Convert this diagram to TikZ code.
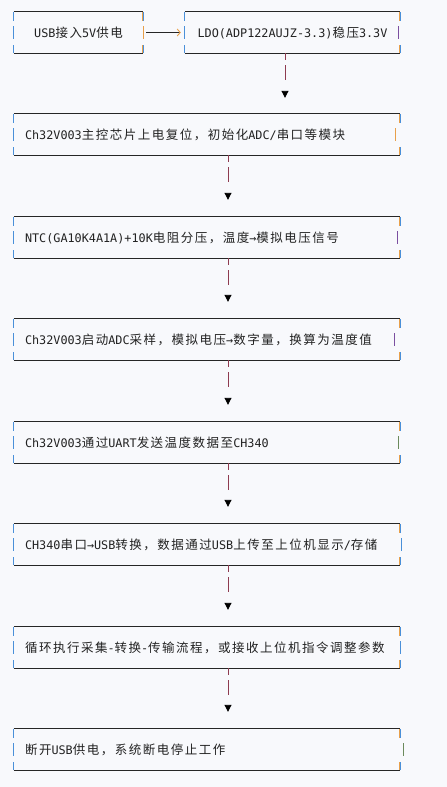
\documentclass[tikz,border=0pt]{standalone}
\usepackage{fontspec}
\setmainfont{Noto Sans CJK SC}[LetterSpace=12]
\newfontfamily\monofont{DejaVu Sans Mono}
\newcommand\en[1]{{\monofont\fontsize{11.8}{15}\selectfont #1}}
\usetikzlibrary{arrows.meta}

\definecolor{bgcolor}{HTML}{F8F9FC}
\definecolor{framegray}{HTML}{262626}
\definecolor{textgray}{HTML}{222222}
\definecolor{tickblue}{HTML}{4A90D9}
\definecolor{tickorange}{HTML}{E8A04A}
\definecolor{linkred}{HTML}{8E3B50}
\definecolor{barpurple}{HTML}{7B4FA0}
\definecolor{bargreen}{HTML}{6B8A5C}

\begin{document}
\begin{tikzpicture}[
        x=1pt,
        y=-1pt,
        stepbox/.style={
            rectangle,
            minimum width=386pt,
            minimum height=41pt,
            inner xsep=11pt,
            text width=364pt,
            align=left,
            text=textgray,
            font=\fontsize{12.5}{15}\selectfont
        },
        topbox/.style={
            stepbox,
            align=center
        },
        frameline/.style={
            draw=framegray,
            line width=0.9pt
        },
        tickline/.style={
            draw=tickblue,
            line width=1pt,
            preaction={draw=tickorange, line width=0.8pt, transform canvas={xshift=-0.8pt}}
        },
        link/.style={
            draw=linkred,
            line width=0.9pt,
            dash pattern=on 7pt off 5pt on 15pt off 30pt,
            -{Triangle[width=7pt,length=7pt,color=black,fill=black]}
        },
        hlink/.style={
            draw=framegray,
            line width=0.9pt,
            -{Straight Barb[length=3pt,width=7pt,color=tickorange]}
        }
    ]

        \fill[bgcolor] (0,0) rectangle (447,787);

        % top row
        \node[topbox, minimum width=129pt, text width=107pt] (usb) at (78.5,32.5) {\mbox{\en{USB}接入\en{5V}供电}};
        \node[topbox, minimum width=215pt, text width=193pt] (ldo) at (292.5,32.5) {\mbox{\en{LDO(ADP122AUJZ-3.3)}稳压\en{3.3V}}};

        % steps
        \node[stepbox] (init) at (207,134.5) {\en{Ch32V003}主控芯片上电复位，初始化\en{ADC/}串口等模块};
        \node[stepbox] (ntc) at (207,237.5) {\en{NTC(GA10K4A1A)+10K}电阻分压，温度\en{→}模拟电压信号};
        \node[stepbox] (adc) at (207,339.5) {\en{Ch32V003}启动\en{ADC}采样，模拟电压\en{→}数字量，换算为温度值};
        \node[stepbox] (uart) at (207,442.5) {\en{Ch32V003}通过\en{UART}发送温度数据至\en{CH340}};
        \node[stepbox] (ch340) at (207,544.5) {\en{CH340}串口\en{→USB}转换，数据通过\en{USB}上传至上位机显示\en{/}存储};
        \node[stepbox] (loop) at (207,647.5) {循环执行采集\en{-}转换\en{-}传输流程，或接收上位机指令调整参数};
        \node[stepbox] (off) at (207,749.5) {断开\en{USB}供电，系统断电停止工作};

        % frames
        \foreach \n/\dx/\rc in {usb/0/tickorange, ldo/-2/barpurple, init/-5/tickorange,
                ntc/-3/barpurple, adc/-6/barpurple, uart/-2/bargreen,
                ch340/1/tickblue, loop/0/tickblue, off/3/bargreen} {
            \draw[frameline] (\n.north west) -- (\n.north east);
            \draw[frameline] (\n.south west) -- (\n.south east);
            \draw[tickline] (\n.north west) -- ([yshift=-9pt]\n.north west);
            \draw[tickline] (\n.south west) -- ([yshift=8pt]\n.south west);
            \draw[tickline] (\n.north east) -- ([yshift=-9pt]\n.north east);
            \draw[tickline] (\n.south east) -- ([yshift=8pt]\n.south east);
            \draw[tickline] ([yshift=6.5pt]\n.west) -- ([yshift=-6.5pt]\n.west);
            \draw[draw=\rc, line width=1.2pt] ([xshift=\dx pt, yshift=6.5pt]\n.east) -- ([xshift=\dx pt, yshift=-6.5pt]\n.east);
        }

        % connectors
        \draw[hlink, shorten <=3pt, shorten >=4pt] (usb.east) -- (ldo.west);
        \draw[link, shorten >=16pt] ([xshift=-7.5pt]ldo.south) -- ([xshift=-7.5pt]ldo.south |- init.north);
        \foreach \a/\b in {init/ntc, ntc/adc, adc/uart, uart/ch340, ch340/loop, loop/off} {
            \draw[link, shorten >=17pt] ([xshift=21pt]\a.south) -- ([xshift=21pt]\b.north);
        }

    \end{tikzpicture}
\end{document}
